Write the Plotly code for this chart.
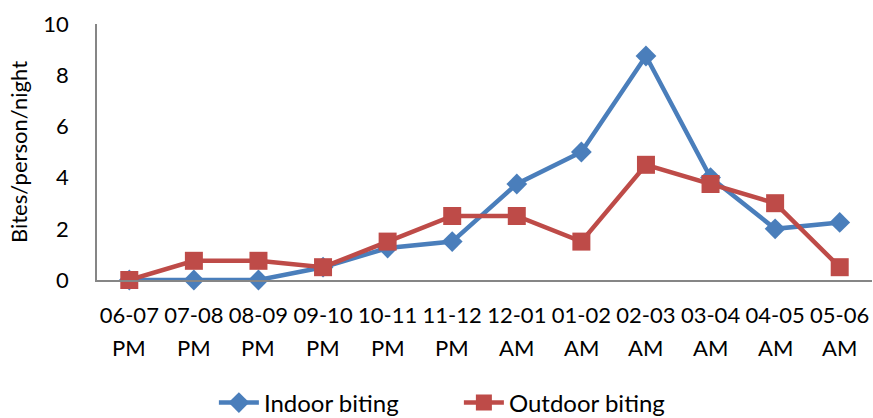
import plotly.graph_objects as go

hours = ["06-07", "07-08", "08-09", "09-10", "10-11", "11-12",
         "12-01", "01-02", "02-03", "03-04", "04-05", "05-06"]
periods = ["PM", "PM", "PM", "PM", "PM", "PM",
           "AM", "AM", "AM", "AM", "AM", "AM"]
indoor = [0, 0, 0, 0.5, 1.25, 1.5, 3.75, 5, 8.75, 4, 2, 2.25]
outdoor = [0, 0.75, 0.75, 0.5, 1.5, 2.5, 2.5, 1.5, 4.5, 3.75, 3, 0.5]

FONT = "Lato"
BLUE = "#4a7ebb"
RED = "#be4b48"

x = list(range(len(hours)))

fig = go.Figure()
fig.add_trace(go.Scatter(
    x=x, y=indoor, name="Indoor biting", mode="lines+markers",
    line=dict(color=BLUE, width=4.5),
    marker=dict(symbol="diamond", size=16, color=BLUE),
    cliponaxis=False,
))
fig.add_trace(go.Scatter(
    x=x, y=outdoor, name="Outdoor biting", mode="lines+markers",
    line=dict(color=RED, width=4.5),
    marker=dict(symbol="square", size=18, color=RED),
    cliponaxis=False,
))

# second line of each category label (AM / PM)
for i, p in enumerate(periods):
    fig.add_annotation(x=i, y=0, xref="x", yref="paper", text=p,
                       showarrow=False, yshift=-67, yanchor="middle",
                       font=dict(family=FONT, size=22, color="black"))

fig.update_layout(
    width=873, height=418,
    margin=dict(l=97, r=1, t=24, b=138, autoexpand=False),
    paper_bgcolor="white", plot_bgcolor="white",
    font=dict(family=FONT, size=22, color="black"),
    showlegend=True,
    legend=dict(orientation="h", xref="container", x=0.245, xanchor="left",
                yref="container", y=0.036, yanchor="middle",
                font=dict(family=FONT, size=24),
                itemwidth=40, entrywidth=190, tracegroupgap=0),
    xaxis=dict(
        range=[-0.5, len(hours) - 0.5],
        tickmode="array", tickvals=x, ticktext=hours,
        showline=True, linecolor="#868686", linewidth=1.5,
        showgrid=False, zeroline=False, ticks="",
        tickfont=dict(family=FONT, size=22),
        ticklabelstandoff=15, fixedrange=True,
    ),
    yaxis=dict(
        range=[0, 10], tickvals=[0, 2, 4, 6, 8, 10],
        showline=True, linecolor="#868686", linewidth=1.5,
        showgrid=False, zeroline=False, ticks="",
        tickfont=dict(family=FONT, size=22),
        ticklabelstandoff=22,
        title=dict(text="Bites/person/night", standoff=10,
                   font=dict(family=FONT, size=22)),
    ),
)

fig.write_html("out.html")
